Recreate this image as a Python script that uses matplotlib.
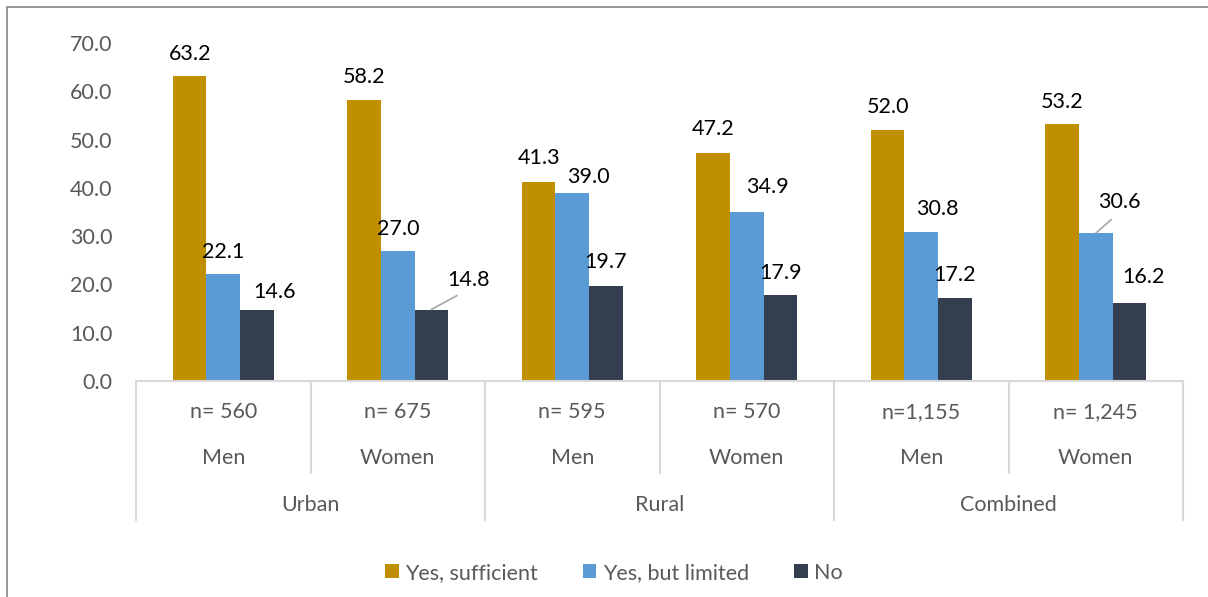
import numpy as np
import matplotlib
matplotlib.use('Agg')
import matplotlib.pyplot as plt
from matplotlib.patches import Rectangle
from matplotlib.lines import Line2D

plt.rcParams['font.family'] = ['Lato', 'DejaVu Sans']

# data
areas = ['Urban', 'Rural', 'Combined']
sexes = ['Men', 'Women', 'Men', 'Women', 'Men', 'Women']
sample_sizes = ['n= 560', 'n= 675', 'n= 595', 'n= 570', 'n=1,155', 'n= 1,245']
series_names = ['Yes, sufficient', 'Yes, but limited', 'No']
sufficient = [63.2, 58.2, 41.3, 47.2, 52.0, 53.2]
limited = [22.1, 27.0, 39.0, 34.9, 30.8, 30.6]
no = [14.6, 14.8, 19.7, 17.9, 17.2, 16.2]

colors = ['#BF8F00', '#5B9BD5', '#333F50']
gray_txt = '#595959'
axis_gray = '#D9D9D9'

# label nudges in pixels (dx, dy) per series, per category
label_offsets = [
    [(0, 22), (0, 23), (0, 24), (0, 24), (0, 23), (0, 22)],
    [(0, 22), (0, 22), (16, 16), (21, 25), (16, 23), (24, 31)],
    [(18, 18), (37, 30), (0, 24), (0, 22), (0, 23), (14, 26)],
]
leaders = {(1, 5), (2, 1)}

W, H = 1208, 597
fig = plt.figure(figsize=(W / 100, H / 100), dpi=100)
ax = fig.add_axes([136 / W, 1 - 381 / H, (1183 - 136) / W, (381 - 42.9) / H])

x = np.arange(len(sexes))
bw = 0.192
values = [sufficient, limited, no]
for i, (vals, c, name) in enumerate(zip(values, colors, series_names)):
    bars = ax.bar(x + (i - 1) * bw, vals, bw, color=c, label=name, zorder=2)
    for j, (b, v) in enumerate(zip(bars, vals)):
        dx, dy = label_offsets[i][j]
        xc = b.get_x() + b.get_width() / 2
        kw = {}
        if (i, j) in leaders:
            kw['arrowprops'] = dict(arrowstyle='-', color='#A6A6A6', lw=1.2,
                                    shrinkA=5, shrinkB=0, relpos=(0.5, 0))
        ax.annotate(f'{v:.1f}', xy=(xc, v), xytext=(dx, dy),
                    textcoords='offset pixels', ha='center', va='center',
                    fontsize=15.5, color='black', **kw)

ax.set_xlim(-0.5, len(sexes) - 0.5)
ax.set_ylim(0, 70)
ax.set_yticks(np.arange(0, 71, 10))
ax.set_yticklabels([f'{t:.1f}' for t in np.arange(0, 71, 10)])
ax.tick_params(axis='y', length=0, pad=17, labelsize=15.5, labelcolor=gray_txt)
ax.set_xticks([])
for s in ['top', 'right', 'left']:
    ax.spines[s].set_visible(False)
ax.spines['bottom'].set_color(axis_gray)
ax.spines['bottom'].set_linewidth(1.5)

# multi-level category axis drawn below the plot
px = lambda yp: 1 - yp / H
trans = matplotlib.transforms.blended_transform_factory(ax.transData, fig.transFigure)
for k in range(len(sexes) + 1):
    xb = k - 0.5
    bottom = 520 if k % 2 == 0 else 473
    fig.add_artist(Line2D([xb, xb], [px(381), px(bottom)], transform=trans,
                          color=axis_gray, lw=1.5))
for j in range(len(sexes)):
    fig.text(j, px(412), sample_sizes[j], transform=trans, ha='center', va='center',
             fontsize=15.5, color=gray_txt)
    fig.text(j, px(458), sexes[j], transform=trans, ha='center', va='center',
             fontsize=15.5, color=gray_txt)
for g, name in enumerate(areas):
    fig.text(2 * g + 0.5, px(505), name, transform=trans, ha='center', va='center',
             fontsize=15.5, color=gray_txt)

fig.legend(loc='center', bbox_to_anchor=(614 / W, px(573)), ncol=3, frameon=False,
           fontsize=15.5, handlelength=0.62, handleheight=0.62, handletextpad=0.3,
           columnspacing=2.1, labelcolor=gray_txt)

# outer chart border
fig.add_artist(Rectangle((7 / W, -0.1), 1.2, px(7) + 0.1, transform=fig.transFigure,
                         fill=False, edgecolor='#8E8E8E', lw=1.3))

fig.savefig('out.png', dpi=100)
